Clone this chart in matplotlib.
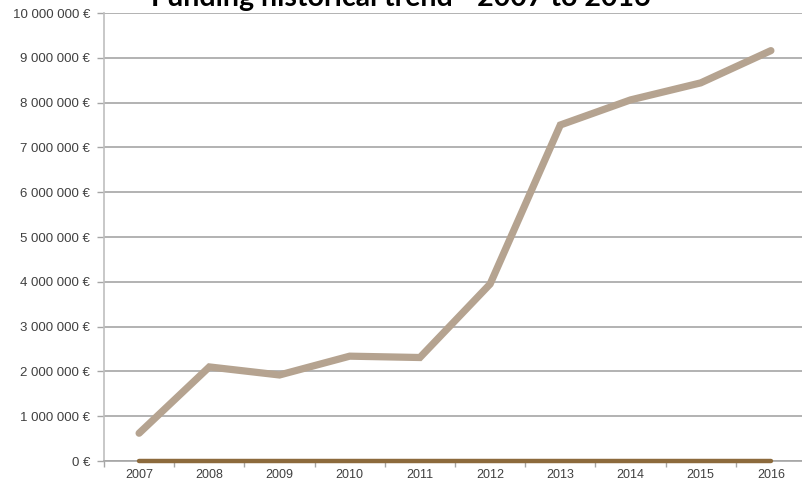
import numpy as np
import matplotlib
matplotlib.use("Agg")
import matplotlib.pyplot as plt
from matplotlib.ticker import FuncFormatter, FixedLocator

years = ["2007", "2008", "2009", "2010", "2011", "2012", "2013", "2014", "2015", "2016"]
funding = [620000, 2100000, 1920000, 2340000, 2310000, 3950000, 7500000, 8060000, 8440000, 9160000]
other = [0, 0, 0, 0, 0, 0, 0, 0, 0, 0]

fig = plt.figure(figsize=(8.02, 4.80), dpi=100)
ax = fig.add_axes([104 / 802, 19 / 480, 702 / 802, 448 / 480])

x = np.arange(len(years))
ax.plot(x, funding, color="#B5A390", lw=5.2, solid_capstyle="round", solid_joinstyle="miter", zorder=3)
ax.plot(x, other, color="#8C6A3C", lw=3.2, solid_capstyle="round", zorder=4, clip_on=False)

ax.set_xlim(-0.5, len(years) - 0.5)
ax.set_ylim(0, 10000000)
ax.set_yticks(np.arange(0, 10000001, 1000000))
ax.yaxis.set_major_formatter(FuncFormatter(lambda v, p: "{:,.0f} €".format(v).replace(",", " ")))
ax.yaxis.grid(True, color="#A6A6A6", lw=1.2)
ax.set_axisbelow(True)

ax.set_xticks(x)
ax.set_xticklabels(years)
ax.xaxis.set_minor_locator(FixedLocator(np.arange(-0.5, len(years), 1.0)))
ax.tick_params(axis="x", which="major", length=0, pad=6, labelsize=9, labelcolor="#404040")
ax.tick_params(axis="x", which="minor", length=4, color="#A6A6A6", width=1)
ax.tick_params(axis="y", length=5, color="#A6A6A6", width=1, pad=5, labelsize=9.5, labelcolor="#404040")
for lab in ax.get_xticklabels() + ax.get_yticklabels():
    lab.set_fontfamily("Liberation Sans")

for s in ["top", "right"]:
    ax.spines[s].set_visible(False)
ax.spines["left"].set_color("#BFBFBF")
ax.spines["left"].set_linewidth(1.2)
ax.spines["bottom"].set_color("#A6A6A6")
ax.spines["bottom"].set_linewidth(1.2)

# title sits partly above the top edge, as in the original
fig.text(401 / 802, 474 / 480, "Funding historical trend - 2007 to 2016", ha="center", va="baseline",
         fontsize=20.5, fontweight="bold", family="Lato", color="black")

fig.savefig("out.png", dpi=100)
